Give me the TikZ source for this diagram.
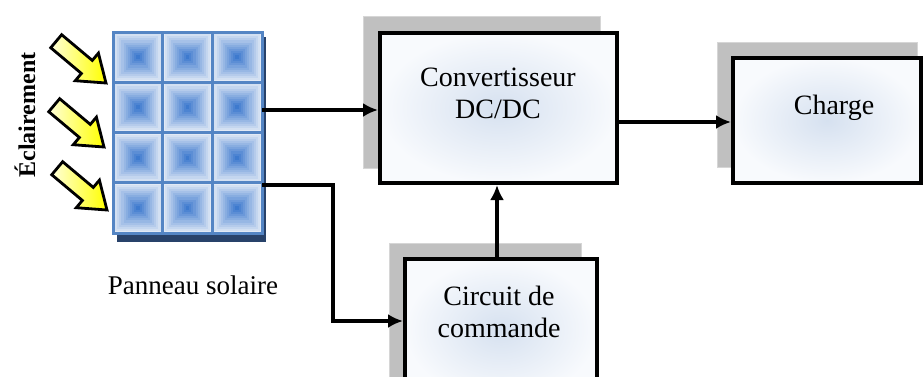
\documentclass[tikz,border=0pt]{standalone}
\usepackage{fontspec}
\setmainfont{Liberation Serif}
\usetikzlibrary{arrows.meta,calc}

\definecolor{cellin}{RGB}{62,122,206}
\definecolor{cellout}{RGB}{226,234,246}
\definecolor{gridblue}{RGB}{84,133,196}
\definecolor{panelshadow}{RGB}{40,66,106}
\definecolor{boxglow}{RGB}{214,225,240}
\definecolor{boxedge}{RGB}{248,250,253}
\definecolor{shadowgray}{RGB}{192,192,192}
\definecolor{shadowline}{RGB}{214,214,214}

\tikzset{
  blockbox/.style={draw=black, line width=4pt, inner sep=0pt,
    inner color=boxglow, outer color=boxedge},
  dropshadow/.style={fill=shadowgray, draw=shadowline, line width=1pt},
  conn/.style={line width=3.5pt, -{Latex[length=15pt,width=14pt]}},
  blocktext/.style={align=center, font=\fontsize{28}{32}\selectfont, inner sep=0pt},
  lightarrow/.style={draw=black, line width=2.8pt, line join=miter,
    left color=yellow!15!white, right color=yellow},
}

\begin{document}
\begin{tikzpicture}[x=1pt,y=-1pt]
\useasboundingbox (0,0) rectangle (924,376);
\clip (0,0) rectangle (924,376);
\fill[white] (0,0) rectangle (924,376);

% ---- solar panel ----
\fill[panelshadow] (117,37) rectangle (266,242);
\node[minimum width=149pt, minimum height=201pt, inner sep=0pt] (panel) at (187.5,132.5) {};
\foreach \i in {0,1,2}{
  \foreach \j in {0,1,2,3}{
    \pgfmathsetmacro{\cx}{113+49.67*\i}
    \pgfmathsetmacro{\cy}{32+50.25*\j}
    \foreach \k in {0,...,11}{
      \pgfmathsetmacro{\p}{100*\k/11}
      \pgfmathsetmacro{\d}{2.1*\k}
      \fill[cellin!\p!cellout]
        (\cx+\d,\cy+\d) rectangle (\cx+49.67-\d,\cy+50.25-\d);
    }
  }
}
\foreach \i in {0,1,2,3}{
  \draw[gridblue, line width=3pt] (113+49.67*\i,32) -- (113+49.67*\i,233);
}
\foreach \j in {0,1,2,3,4}{
  \draw[gridblue, line width=3pt] (113,32+50.25*\j) -- (262,32+50.25*\j);
}
\draw[gridblue, line width=3pt] (113,32) rectangle (262,233);

% ---- light arrows ----
\foreach \tx/\ty in {106/83, 104/147, 107/210}{
  \begin{scope}[shift={(\tx,\ty)}, rotate=-40]
    \draw[lightarrow] (0,0) -- (-25,-18) -- (-25,-8.5) -- (-65,-8.5)
      -- (-65,8.5) -- (-25,8.5) -- (-25,18) -- cycle;
  \end{scope}
}

\node[rotate=90, inner sep=0pt, font=\bfseries\fontsize{24}{28}\selectfont] (ecl) at (25,115) {Éclairement};
\node[inner sep=0pt, font=\fontsize{27}{31}\selectfont] (paneltitle) at (193,285) {Panneau solaire};

% ---- blocks ----
\fill[dropshadow] (363,16) rectangle (600,168);
\node[blockbox, minimum width=237pt, minimum height=150pt] (conv) at (498.5,108) {};
\node[blocktext] (convtext) at (498,93) {Convertisseur\\DC/DC};

\fill[dropshadow] (717,42) rectangle (917,167);
\node[blockbox, minimum width=188pt, minimum height=125pt] (charge) at (827,120.5) {};
\node[blocktext] (chargetext) at (834,108) {Charge};

\fill[dropshadow] (389,243) rectangle (581,390);
\node[blockbox, minimum width=192pt, minimum height=141pt] (circ) at (501,329.5) {};
\node[blocktext] (circtext) at (499,312) {Circuit de\\commande};

% ---- connectors ----
\coordinate (pout1) at (262,110);
\coordinate (pout2) at (262,185);
\draw[conn] (pout1) -- (pout1 -| conv.west);
\draw[conn] (conv.east |- 0,122) -- (charge.west |- 0,122);
\draw[conn] (pout2) -- ++(71,0) |- (circ.west |- 0,321);
\draw[conn] (circ.north -| 497,0) -- (conv.south -| 497,0);
\end{tikzpicture}
\end{document}
